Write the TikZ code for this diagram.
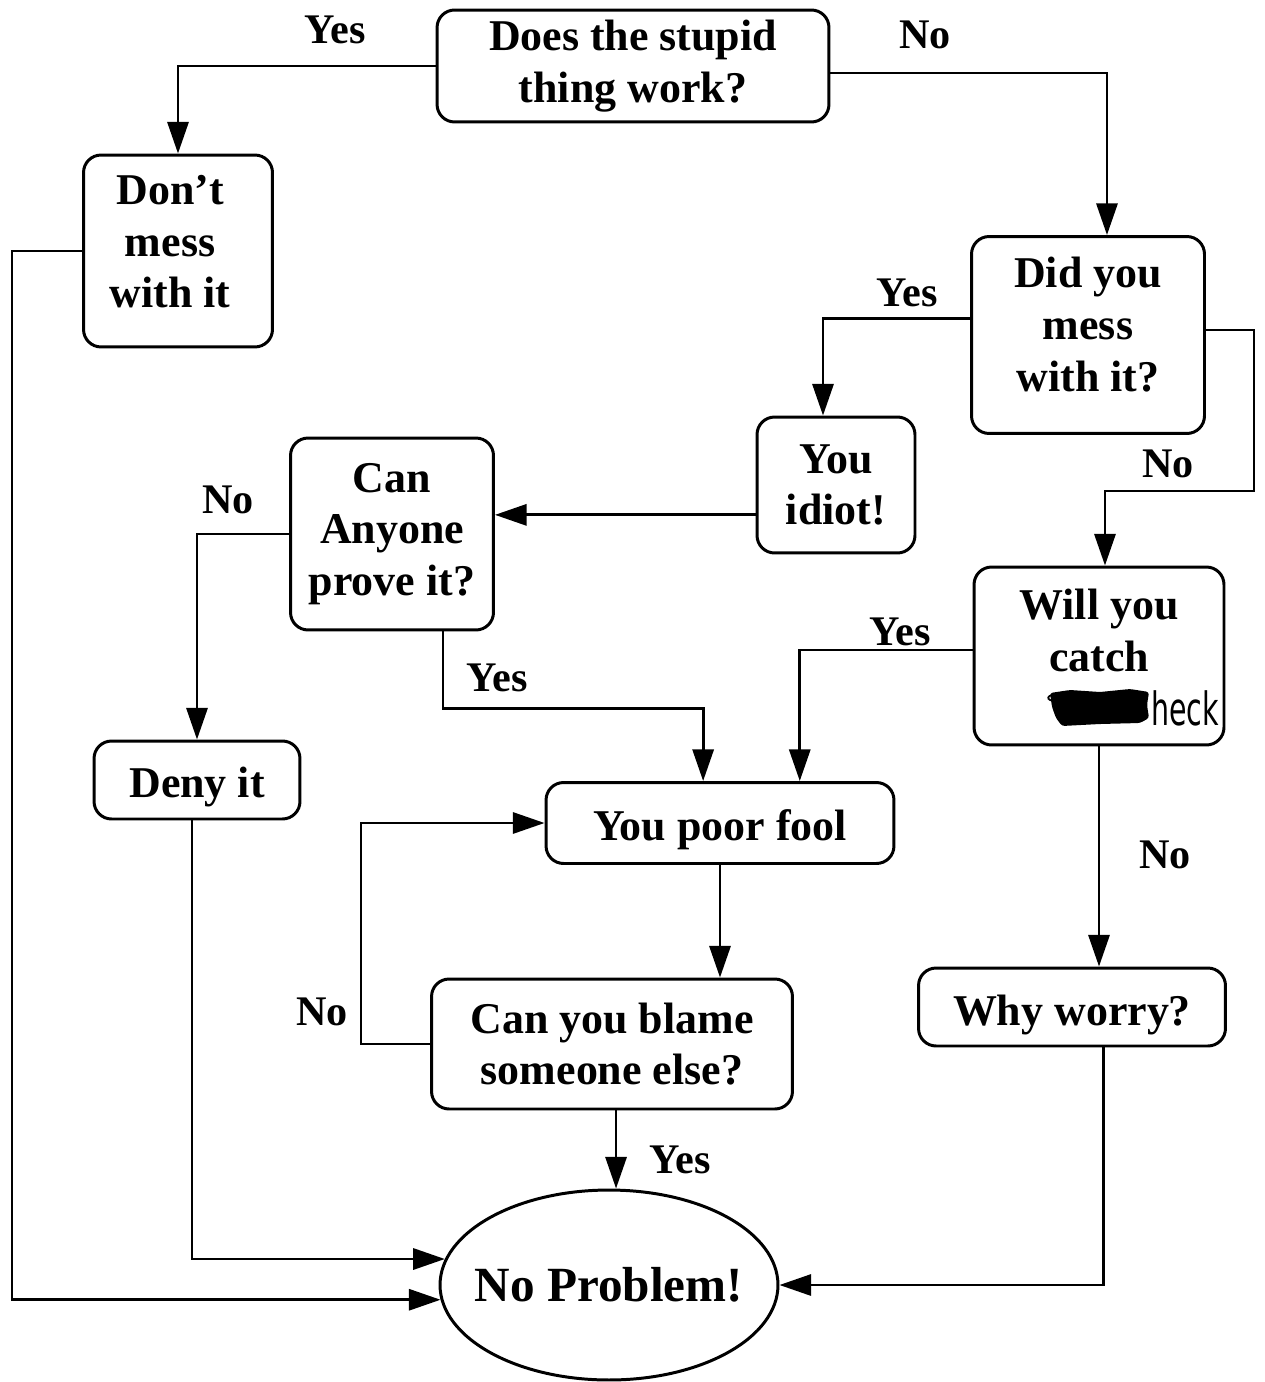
\documentclass[tikz,border=0pt]{standalone}
\usepackage{fontspec}
\setmainfont{Liberation Serif}
\newfontfamily\handfont{DejaVu Sans Condensed}
\usetikzlibrary{arrows.meta,shapes.geometric}
\newcommand\shiftxt[2]{\raisebox{#1}[\height][\depth]{#2}}
\begin{document}
\begin{tikzpicture}[x=0.02cm,y=-0.02cm,
  box/.style={draw, line width=1.7pt, rounded corners=10pt, align=center, inner sep=0pt,
    font=\fontsize{25}{29.5}\selectfont\bfseries},
  lbl/.style={font=\fontsize{24}{28}\selectfont\bfseries, inner sep=0pt},
  arr/.style={line width=1.6pt, -{Triangle[length=18pt,width=12pt]}},
  ln/.style={line width=1.6pt}]
\useasboundingbox (0,0) rectangle (1264,1382);

% boxes
\node[box, minimum width=7.84cm, minimum height=2.24cm] (top) at (633,66) {Does the stupid\\thing work?};
\node[box, minimum width=3.78cm, minimum height=3.84cm] (dont) at (178,251)
  {\shiftxt{3pt}{\begin{tabular}{@{}c@{}}Don’t\\mess\\with it\end{tabular}}\hspace{9pt}};
\node[box, minimum width=4.66cm, minimum height=3.94cm] (did) at (1088,335)
  {\shiftxt{3.5pt}{\begin{tabular}{@{}c@{}}Did you\\mess\\with it?\end{tabular}}};
\node[box, minimum width=3.16cm, minimum height=2.72cm] (idiot) at (836,485) {You\\idiot!};
\node[box, minimum width=4.06cm, minimum height=3.84cm] (anyone) at (392,534) {Can\\Anyone\\prove it?};
\node[box, minimum width=5.0cm, minimum height=3.56cm] (will) at (1099,656) {Will you\\catch\\~};
\node[box, minimum width=4.12cm, minimum height=1.56cm] (deny) at (197,780) {\shiftxt{-4pt}{Deny it}};
\node[box, minimum width=6.96cm, minimum height=1.62cm] (fool) at (720,823) {\shiftxt{-4pt}{You poor fool}};
\node[box, minimum width=7.22cm, minimum height=2.6cm] (blame) at (612,1044) {Can you blame\\someone else?};
\node[box, minimum width=6.14cm, minimum height=1.56cm] (why) at (1072,1007) {\shiftxt{-4.5pt}{Why worry?}};
\node[draw, ellipse, line width=1.7pt, minimum width=6.76cm, minimum height=3.8cm, inner sep=0pt,
  font=\fontsize{28}{32}\selectfont\bfseries] (np) at (609,1285) {\makebox[0pt]{No Problem!}};

% redacted word and handwritten "heck"
\fill[rounded corners=1.5pt] (1050,693) -- (1070,690) -- (1100,692) -- (1130,689) -- (1149,692)
  -- (1147,705) -- (1149,718) -- (1140,723) -- (1100,724) -- (1062,726) -- (1056,718) -- (1052,707) -- cycle;
\draw[line width=1pt] (1060,694) .. controls (1045,694) and (1045,701) .. (1056,701);
\node[font=\handfont\fontsize{18}{18}\selectfont, inner sep=0pt, anchor=west] (heck) at (1151,708) {\scalebox{1}[1.45]{heck}};

% connectors
\draw[arr] (top.west) -| (dont.north);
\draw[arr] ([yshift=-4pt]top.east) -| ([xshift=10.8pt]did.north);
\draw[arr] ([yshift=9.6pt]did.west) -| ([xshift=-7.4pt]idiot.north);
\draw[arr] ([yshift=2.8pt]did.east) -- ++(48,0) -- ++(0,161) -| ([xshift=3.4pt]will.north);
\draw[arr] ([yshift=-17pt]idiot.west) -- ([yshift=-17pt]idiot.west -| anyone.east);
\draw[arr] (anyone.west) -| (deny.north);
\draw[arr] ([xshift=29pt]anyone.south) -- ++(0,77) -| ([xshift=-9.6pt]fool.north);
\draw[arr] ([yshift=3.4pt]will.west) -| ([xshift=45.4pt]fool.north);
\draw[arr] (will.south) -- (will.south |- why.north);
\draw[arr] (fool.south) -- (fool.south |- blame.north);
\draw[arr] (blame.west) -- ++(-69,0) |- (fool.west);
\draw[arr] ([xshift=2.3pt]blame.south) -- ([xshift=2.3pt]blame.south |- np.north);
\draw[arr] ([xshift=-2.8pt]deny.south) |- (np.171);
\draw[arr] (dont.west) -- ++(-70,0) |- (np.185);
\draw[arr] ([xshift=18pt]why.south) |- (np.east);

% labels
\node[lbl] (l1) at (335,30) {Yes};
\node[lbl] (l2) at (925,35) {No};
\node[lbl] (l3) at (907,293) {Yes};
\node[lbl] (l4) at (1168,464) {No};
\node[lbl] (l5) at (228,500) {No};
\node[lbl] (l6) at (497,678) {Yes};
\node[lbl] (l7) at (900,632) {Yes};
\node[lbl] (l8) at (1165,855) {No};
\node[lbl] (l9) at (322,1012) {No};
\node[lbl] (l10) at (680,1160) {Yes};
\end{tikzpicture}
\end{document}
